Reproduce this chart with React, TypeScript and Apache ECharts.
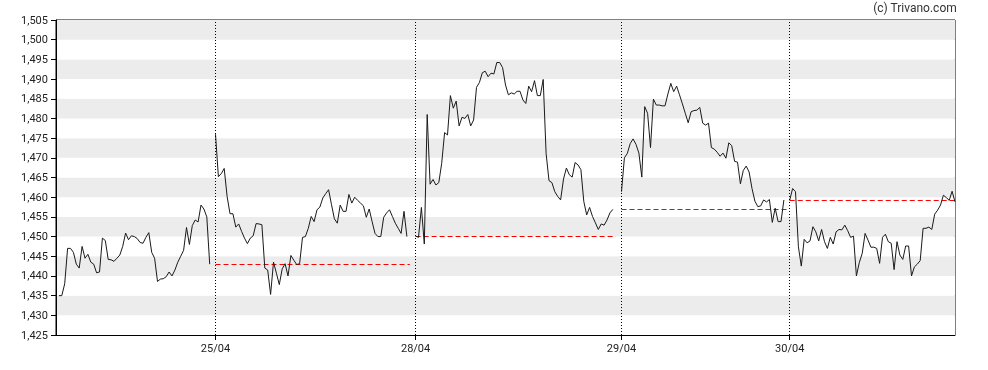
import React, { useEffect, useRef } from "react";
import * as echarts from "echarts";

// Tick labels at the start of each trading day
const tickLabels = ["25/04", "28/04", "29/04", "30/04"];
// Slot index at which each day's first quote sits
const dayStarts = [1, 55, 124, 195, 253];
const totalSlots = 310;

const yTicksMin = 1425;
const yTicksMax = 1505;
const yTickStep = 5;

const day1 = [1435, 1435, 1438, 1447, 1447, 1446, 1443, 1442, 1447.5, 1444.5, 1445.5, 1443.5, 1443, 1440.8, 1441, 1449.6, 1449, 1444.2, 1444.1, 1443.7, 1444.5, 1445.3, 1447.5, 1450.9, 1449.2, 1450.2, 1450, 1449.5, 1448.5, 1448.3, 1449.8, 1451, 1446, 1444.5, 1438.6, 1439.2, 1439.3, 1439.8, 1441, 1440, 1441.5, 1443.5, 1445, 1446.5, 1452.3, 1448, 1452.8, 1454.2, 1453.7, 1458, 1457, 1455, 1443];

const day2 = [1476, 1465.2, 1466, 1467.3, 1460.2, 1455.8, 1455.8, 1452.4, 1453.2, 1451.3, 1449.6, 1448.2, 1449.6, 1450.2, 1453.3, 1453.2, 1453, 1442, 1441.5, 1435.3, 1443.5, 1440.7, 1437.8, 1441.8, 1443.1, 1440, 1445.2, 1444, 1442.9, 1443.1, 1449.8, 1450, 1452.1, 1455.1, 1453.8, 1456.8, 1457.5, 1459.8, 1460.9, 1461.9, 1458.1, 1454.5, 1453.4, 1458, 1456.4, 1456.4, 1460.7, 1458.5, 1460, 1459.2, 1458.5, 1457.8, 1454.9, 1457, 1453.8, 1450.8, 1450, 1450, 1454.9, 1456, 1456.8, 1455.1, 1453.4, 1452.1, 1450.8, 1456.4, 1450];

const day3 = [1450.1, 1449.8, 1457.4, 1448.1, 1481, 1463.3, 1464.5, 1463.1, 1463.7, 1468.6, 1476.4, 1475.8, 1485.8, 1482.6, 1484.4, 1478.1, 1480.3, 1480, 1481, 1478.1, 1479.6, 1487.9, 1489.1, 1491.6, 1492, 1490.6, 1491.5, 1491.3, 1494.2, 1494.2, 1492.9, 1488.5, 1486, 1486.5, 1486.2, 1486.9, 1486.9, 1484.7, 1483.8, 1488.2, 1486.8, 1489.6, 1485.8, 1485.8, 1489.9, 1471.1, 1464.2, 1463.7, 1461.4, 1460.2, 1459.3, 1464.6, 1467.4, 1465.7, 1465.1, 1468.8, 1468.2, 1467, 1458.9, 1455.5, 1457.4, 1455.1, 1453.5, 1451.8, 1453.2, 1452.9, 1454.2, 1456, 1456.9];

const day4 = [1461.4, 1470, 1471.1, 1473.6, 1474.8, 1473.4, 1471.2, 1465.1, 1483, 1481.3, 1472.6, 1484.9, 1483.4, 1483.4, 1483.2, 1483.2, 1486.2, 1488.9, 1486.8, 1488.2, 1486, 1483.7, 1481.3, 1478.9, 1481.7, 1482, 1482.1, 1482.8, 1478.8, 1478.3, 1478.8, 1472.6, 1472.2, 1471.4, 1470.4, 1471.2, 1469.9, 1473.8, 1473.1, 1469.1, 1468.9, 1463.4, 1466.8, 1467.9, 1466.4, 1462.2, 1459, 1457.6, 1457.8, 1459.3, 1458.8, 1459.4, 1453.6, 1457.2, 1453.8, 1453.8, 1459.3];

const day5 = [1459.2, 1462.2, 1461.4, 1447.4, 1442.5, 1449.3, 1448.4, 1448.9, 1452.5, 1451.2, 1448.9, 1451.8, 1448.7, 1447, 1449.8, 1448.1, 1451.2, 1451.8, 1451.7, 1452.9, 1451.5, 1449.8, 1450.1, 1440, 1443.4, 1445.7, 1450.8, 1449.1, 1447.3, 1447.3, 1447, 1443.2, 1449.8, 1450.6, 1448.7, 1448.3, 1441.6, 1448.7, 1445.3, 1444.2, 1447.6, 1447.6, 1440, 1442.3, 1443, 1443.9, 1452.1, 1452.1, 1452.4, 1451.8, 1455.7, 1456.7, 1458, 1460.5, 1459.9, 1459.2, 1461.5, 1458.8];

const days = [day1, day2, day3, day4, day5];

export default function App() {
  const ref = useRef<HTMLDivElement>(null);

  useEffect(() => {
    if (!ref.current) return;
    const chart = echarts.init(ref.current, undefined, { renderer: "svg" });
    const boundaries = dayStarts.slice(1);
    const labelFor = (v: number) => {
      const i = boundaries.indexOf(Math.round(v));
      return i >= 0 ? tickLabels[i] : "";
    };

    const series: any[] = days.map((vals, d) => {
      const start = dayStarts[d];
      const s: any = {
        type: "line",
        data: vals.map((v, i) => [start + i, v]),
        showSymbol: false,
        symbol: "none",
        lineStyle: { color: "#1a1a1a", width: 1 },
        z: 3,
        silent: true,
      };
      if (d > 0) {
        const prev = days[d - 1][days[d - 1].length - 1];
        const end = Math.min(start + vals.length, totalSlots);
        s.markLine = {
          silent: true,
          symbol: ["none", "none"],
          label: { show: false },
          lineStyle: { color: "#ff0000", type: [5, 3], width: 1 },
          data: [[{ coord: [start, prev] }, { coord: [end, prev] }]],
          z: 2,
        };
      }
      return s;
    });

    series.push({
      type: "line",
      data: [],
      markLine: {
        silent: true,
        symbol: ["none", "none"],
        label: { show: false },
        lineStyle: { color: "#000", type: [1, 2], width: 1 },
        data: boundaries.map((b) => ({ xAxis: b })),
      },
    });

    chart.setOption({
      animation: false,
      textStyle: { fontFamily: "Roboto, Arial, sans-serif" },
      grid: {
        left: 56,
        right: 33,
        top: 20,
        bottom: 35,
        show: true,
        borderColor: "#000",
        borderWidth: 1,
        backgroundColor: "transparent",
      },
      graphic: [
        {
          type: "text",
          right: 31,
          top: 2,
          style: {
            text: "(c) Trivano.com",
            font: "12px Roboto, Arial, sans-serif",
            fill: "#333",
          },
        },
      ],
      xAxis: {
        type: "value",
        min: 0,
        max: totalSlots,
        axisLine: { show: true, lineStyle: { color: "#000" } },
        axisTick: {
          show: true,
          length: 5,
          customValues: boundaries,
          lineStyle: { color: "#000" },
        },
        axisLabel: {
          customValues: boundaries,
          formatter: (v: number) => labelFor(v),
          color: "#222",
          fontSize: 11,
          margin: 8,
        },
        splitLine: { show: false },
      },
      yAxis: {
        type: "value",
        min: yTicksMin,
        max: yTicksMax,
        interval: yTickStep,
        axisLine: { show: true, lineStyle: { color: "#000" } },
        axisTick: { show: true, length: 5, lineStyle: { color: "#000" } },
        axisLabel: {
          color: "#222",
          fontSize: 11,
          margin: 8,
          formatter: (v: number) => v.toLocaleString("en-US"),
        },
        splitLine: { show: false },
        splitArea: {
          show: true,
          areaStyle: { color: ["#ffffff", "#ececec"] },
        },
      },
      series,
    });

    return () => chart.dispose();
  }, []);

  return (
    <div
      ref={ref}
      style={{ position: "fixed", left: 0, top: 0, width: 988, height: 370 }}
    />
  );
}
